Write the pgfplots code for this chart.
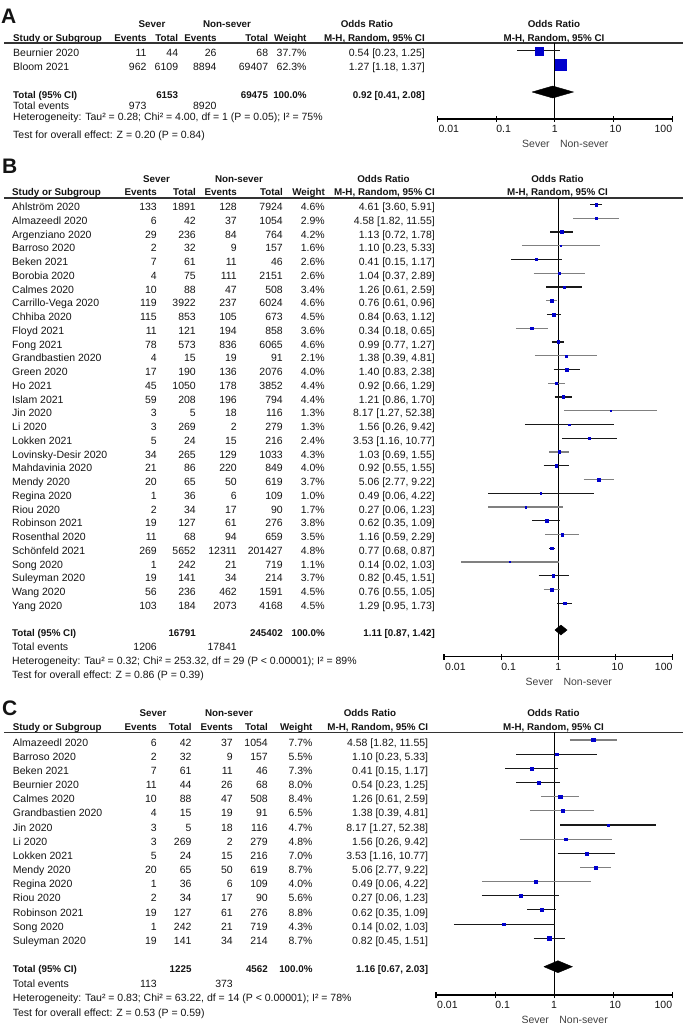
\documentclass[border=0pt]{standalone}
\usepackage{fontspec}
\setmainfont{Liberation Sans}
\usepackage{pgfplots}
\usepackage{pgfplotstable}
\pgfplotsset{compat=1.18}
\definecolor{sq}{RGB}{0,0,205}
\definecolor{txt}{RGB}{20,20,20}

% y = row position, or = odds ratio, lo/hi = 95% CI, s = half side of square, k = line shade
\pgfplotstableread{
y or lo hi s k
50.8 0.54 0.23 1.25 3.9 1
64.5 1.27 1.18 1.37 5.4 1
}\tabA

\pgfplotstableread{
y or lo hi s k
204.5 4.61 3.60 5.91 1.39 1
218.25 4.58 1.82 11.55 1.11 0
232 1.13 0.72 1.78 1.33 1
245.75 1.10 0.23 5.33 0.82 0
259.5 0.41 0.15 1.17 1.05 1
273.25 1.04 0.37 2.89 1.05 0
287 1.26 0.61 2.59 1.20 1
300.75 0.76 0.61 0.96 1.39 0
314.5 0.84 0.63 1.12 1.38 1
328.25 0.34 0.18 0.65 1.23 0
342 0.99 0.77 1.27 1.39 1
355.75 1.38 0.39 4.81 0.94 0
369.5 1.40 0.83 2.38 1.30 1
383.25 0.92 0.66 1.29 1.36 0
397 1.21 0.86 1.70 1.36 1
410.75 8.17 1.27 52.38 0.74 0
424.5 1.56 0.26 9.42 0.74 1
438.25 3.53 1.16 10.77 1.01 1
452 1.03 0.69 1.55 1.35 0
465.75 0.92 0.55 1.55 1.30 1
479.5 5.06 2.77 9.22 1.25 0
493.25 0.49 0.06 4.22 0.65 1
507 0.27 0.06 1.23 0.85 0
520.75 0.62 0.35 1.09 1.27 1
534.5 1.16 0.59 2.29 1.22 0
548.25 0.77 0.68 0.87 1.42 1
562 0.14 0.02 1.03 0.68 0
575.75 0.82 0.45 1.51 1.25 1
589.5 0.76 0.55 1.05 1.38 0
603.25 1.29 0.95 1.73 1.38 1
}\tabB

\pgfplotstableread{
y or lo hi s k
740 4.58 1.82 11.55 1.61 0
754.16 1.10 0.23 5.33 1.36 1
768.32 0.41 0.15 1.17 1.57 1
782.48 0.54 0.23 1.25 1.64 1
796.64 1.26 0.61 2.59 1.68 0
810.8 1.38 0.39 4.81 1.48 0
824.96 8.17 1.27 52.38 1.26 1
839.12 1.56 0.26 9.42 1.27 0
853.28 3.53 1.16 10.77 1.53 1
867.44 5.06 2.77 9.22 1.71 0
881.6 0.49 0.06 4.22 1.16 0
895.76 0.27 0.06 1.23 1.37 1
909.92 0.62 0.35 1.09 1.72 1
924.08 0.14 0.02 1.03 1.20 1
938.24 0.82 0.45 1.51 1.71 1
}\tabC

\pgfplotsset{
 ci1/.style={black!90, line width=1.1pt, forget plot, mark=none},
 ci0/.style={black!50, line width=1.1pt, forget plot, mark=none},
}

\newcommand\forestdata[1]{%
 \pgfplotstablegetrowsof{#1}\pgfmathtruncatemacro\NN{\pgfplotsretval-1}%
 \pgfplotsforeachungrouped \i in {0,...,\NN}{%
   \pgfplotstablegetelem{\i}{lo}\of{#1}\let\lo\pgfplotsretval
   \pgfplotstablegetelem{\i}{hi}\of{#1}\let\hi\pgfplotsretval
   \pgfplotstablegetelem{\i}{y}\of{#1}\let\yy\pgfplotsretval
   \pgfplotstablegetelem{\i}{k}\of{#1}\let\kk\pgfplotsretval
   \edef\temp{\noexpand\addplot[ci\kk] coordinates {(\lo,\yy) (\hi,\yy)};}%
   \temp
 }%
 \addplot[scatter, only marks, mark=square*, forget plot,
   scatter/use mapped color={draw=sq,fill=sq},
   visualization depends on={\thisrow{s}\as\sz},
   scatter/@pre marker code/.append style={/tikz/mark size=\sz}]
   table[x=or,y=y,meta=s]{#1};
}
\newcommand\ticklabs[1]{%
 \node[anchor=base west, yshift=-13.5pt, xshift=1pt] at (axis cs:0.01,#1) {0.01};
 \node[anchor=base west, yshift=-13.5pt] at (axis cs:0.1,#1) {0.1};
 \node[anchor=base, yshift=-13.5pt] at (axis cs:1,#1) {1};
 \node[anchor=base, yshift=-13.5pt, xshift=2pt] at (axis cs:10,#1) {10};
 \node[anchor=base east, yshift=-13.5pt] at (axis cs:100,#1) {100};
 \node[anchor=base east, yshift=-28.5pt, xshift=-5pt, text=black!75] at (axis cs:1,#1) {Sever};
 \node[anchor=base west, yshift=-28.5pt, xshift=5pt, text=black!75] at (axis cs:1,#1) {Non-sever};
}

\newcommand\setcols[7]{\def\cN{#1}\def\cE{#2}\def\cT{#3}\def\cF{#4}\def\cG{#5}\def\cW{#6}\def\cR{#7}}
\def\bl{6.1}
\def\hbl{5}
\newcommand\trow[8]{%
 \node[anchor=base west] at (\cN,#1+\bl) {#2};
 \node[anchor=base east] at (\cE,#1+\bl) {#3};
 \node[anchor=base east] at (\cT,#1+\bl) {#4};
 \node[anchor=base east] at (\cF,#1+\bl) {#5};
 \node[anchor=base east] at (\cG,#1+\bl) {#6};
 \node[anchor=base east] at (\cW,#1+\bl) {#7};
 \node[anchor=base east] at (\cR,#1+\bl) {#8};}
% #1 y row1, #2 y row2, #3 sever centre, #4 non-sever centre, #5 OR centre, #6 plot centre, #7 rule y
\newcommand\thead[7]{%
 \node[b, anchor=base] at (#3,#1+\hbl) {Sever};
 \node[b, anchor=base] at (#4,#1+\hbl) {Non-sever};
 \node[b, anchor=base] at (#5,#1+\hbl) {Odds Ratio};
 \node[b, anchor=base] at (#6,#1+\hbl) {Odds Ratio};
 \node[b, anchor=base west] at (\cN,#2+\hbl) {Study or Subgroup};
 \node[b, anchor=base east] at (\cE,#2+\hbl) {Events};
 \node[b, anchor=base east] at (\cT,#2+\hbl) {Total};
 \node[b, anchor=base east] at (\cF,#2+\hbl) {Events};
 \node[b, anchor=base east] at (\cG,#2+\hbl) {Total};
 \node[b, anchor=base east] at (\cW,#2+\hbl) {Weight};
 \node[b, anchor=base east] at (\cR,#2+\hbl) {M-H, Random, 95\% CI};
 \node[b, anchor=base] at (#6,#2+\hbl) {M-H, Random, 95\% CI};
 \draw[line width=1.3pt, black!80] (4,#7) -- (683,#7);}

\begin{document}
\fontsize{10.5}{12}\selectfont
\begin{tikzpicture}[x=1pt,y=-1pt, every node/.style={inner sep=0pt, text=txt},
  b/.style={font=\fontsize{9.8}{12}\selectfont\bfseries}]

% ---------------- Panel A ----------------
\node[anchor=base west, font=\fontsize{21}{22}\selectfont\bfseries] at (1,23) {A};
\setcols{13}{146.7}{178.3}{216.7}{268.3}{306.7}{425}
\thead{22.5}{36.8}{152}{227}{367}{554}{43}
\trow{50.8}{Beurnier 2020}{11}{44}{26}{68}{37.7\%}{0.54 [0.23, 1.25]}
\trow{64.5}{Bloom 2021}{962}{6109}{8894}{69407}{62.3\%}{1.27 [1.18, 1.37]}
\begin{scope}[every node/.append style={b}]
\trow{92}{Total (95\% CI)}{}{6153}{}{69475}{100.0\%}{0.92 [0.41, 2.08]}
\end{scope}
\trow{103.5}{Total events}{973}{}{8920}{}{}{}
\node[anchor=base west] at (\cN,114.8+\bl) {Heterogeneity: Tau² = 0.28; Chi² = 4.00, df = 1 (P = 0.05); I² = 75\%};
\node[anchor=base west] at (\cN,132.5+\bl) {Test for overall effect: Z = 0.20 (P = 0.84)};

\begin{axis}[scale only axis, anchor=south west, xmode=log, xmin=0.01, xmax=100,
   y dir=reverse, axis y line=none, axis x line*=bottom,
   axis line style={line width=1.1pt, black},
   xtick={0.01,0.1,1,10,100}, xticklabels={}, xminorticks=false,
   tick align=center, major tick length=6pt,
   every tick/.style={line width=1.1pt, black}, clip=false,
   at={(437.3pt,-119pt)}, width=235pt, height=76pt, ymin=43, ymax=119]
 \addplot[black, line width=1.1pt, mark=none, forget plot] coordinates {(1,43) (1,119)};
 \forestdata{\tabA}
 \addplot[fill=black, draw=black, mark=none, forget plot] coordinates {(0.41,92) (0.92,86) (2.08,92) (0.92,98) (0.41,92)};
 \ticklabs{119}
\end{axis}

% ---------------- Panel B ----------------
\node[anchor=base west, font=\fontsize{21}{22}\selectfont\bfseries] at (2,173.3) {B};
\setcols{12}{157}{196}{237}{283}{325}{435}
\thead{177.5}{190.2}{156.5}{239}{383.5}{557.5}{198}
\trow{204.5}{Ahlström 2020}{133}{1891}{128}{7924}{4.6\%}{4.61 [3.60, 5.91]}
\trow{218.25}{Almazeedl 2020}{6}{42}{37}{1054}{2.9\%}{4.58 [1.82, 11.55]}
\trow{232}{Argenziano 2020}{29}{236}{84}{764}{4.2\%}{1.13 [0.72, 1.78]}
\trow{245.75}{Barroso 2020}{2}{32}{9}{157}{1.6\%}{1.10 [0.23, 5.33]}
\trow{259.5}{Beken 2021}{7}{61}{11}{46}{2.6\%}{0.41 [0.15, 1.17]}
\trow{273.25}{Borobia 2020}{4}{75}{111}{2151}{2.6\%}{1.04 [0.37, 2.89]}
\trow{287}{Calmes 2020}{10}{88}{47}{508}{3.4\%}{1.26 [0.61, 2.59]}
\trow{300.75}{Carrillo-Vega 2020}{119}{3922}{237}{6024}{4.6\%}{0.76 [0.61, 0.96]}
\trow{314.5}{Chhiba 2020}{115}{853}{105}{673}{4.5\%}{0.84 [0.63, 1.12]}
\trow{328.25}{Floyd 2021}{11}{121}{194}{858}{3.6\%}{0.34 [0.18, 0.65]}
\trow{342}{Fong 2021}{78}{573}{836}{6065}{4.6\%}{0.99 [0.77, 1.27]}
\trow{355.75}{Grandbastien 2020}{4}{15}{19}{91}{2.1\%}{1.38 [0.39, 4.81]}
\trow{369.5}{Green 2020}{17}{190}{136}{2076}{4.0\%}{1.40 [0.83, 2.38]}
\trow{383.25}{Ho 2021}{45}{1050}{178}{3852}{4.4\%}{0.92 [0.66, 1.29]}
\trow{397}{Islam 2021}{59}{208}{196}{794}{4.4\%}{1.21 [0.86, 1.70]}
\trow{410.75}{Jin 2020}{3}{5}{18}{116}{1.3\%}{8.17 [1.27, 52.38]}
\trow{424.5}{Li 2020}{3}{269}{2}{279}{1.3\%}{1.56 [0.26, 9.42]}
\trow{438.25}{Lokken 2021}{5}{24}{15}{216}{2.4\%}{3.53 [1.16, 10.77]}
\trow{452}{Lovinsky-Desir 2020}{34}{265}{129}{1033}{4.3\%}{1.03 [0.69, 1.55]}
\trow{465.75}{Mahdavinia 2020}{21}{86}{220}{849}{4.0\%}{0.92 [0.55, 1.55]}
\trow{479.5}{Mendy 2020}{20}{65}{50}{619}{3.7\%}{5.06 [2.77, 9.22]}
\trow{493.25}{Regina 2020}{1}{36}{6}{109}{1.0\%}{0.49 [0.06, 4.22]}
\trow{507}{Riou 2020}{2}{34}{17}{90}{1.7\%}{0.27 [0.06, 1.23]}
\trow{520.75}{Robinson 2021}{19}{127}{61}{276}{3.8\%}{0.62 [0.35, 1.09]}
\trow{534.5}{Rosenthal 2020}{11}{68}{94}{659}{3.5\%}{1.16 [0.59, 2.29]}
\trow{548.25}{Schönfeld 2021}{269}{5652}{12311}{201427}{4.8\%}{0.77 [0.68, 0.87]}
\trow{562}{Song 2020}{1}{242}{21}{719}{1.1\%}{0.14 [0.02, 1.03]}
\trow{575.75}{Suleyman 2020}{19}{141}{34}{214}{3.7\%}{0.82 [0.45, 1.51]}
\trow{589.5}{Wang 2020}{56}{236}{462}{1591}{4.5\%}{0.76 [0.55, 1.05]}
\trow{603.25}{Yang 2020}{103}{184}{2073}{4168}{4.5\%}{1.29 [0.95, 1.73]}
\begin{scope}[every node/.append style={b}]
\trow{630}{Total (95\% CI)}{}{16791}{}{245402}{100.0\%}{1.11 [0.87, 1.42]}
\end{scope}
\trow{644.2}{Total events}{1206}{}{17841}{}{}{}
\node[anchor=base west] at (\cN,658.5+\bl) {Heterogeneity: Tau² = 0.32; Chi² = 253.32, df = 29 (P < 0.00001); I² = 89\%};
\node[anchor=base west] at (\cN,672.5+\bl) {Test for overall effect: Z = 0.86 (P = 0.39)};

\begin{axis}[scale only axis, anchor=south west, xmode=log, xmin=0.01, xmax=100,
   y dir=reverse, axis y line=none, axis x line*=bottom,
   axis line style={line width=1.1pt, black},
   xtick={0.01,0.1,1,10,100}, xticklabels={}, xminorticks=false,
   tick align=center, major tick length=6pt,
   every tick/.style={line width=1.1pt, black}, clip=false,
   at={(444pt,-656.7pt)}, width=228.7pt, height=458.7pt, ymin=198, ymax=656.7]
 \addplot[black, line width=1.1pt, mark=none, forget plot] coordinates {(1,198) (1,656.7)};
 \forestdata{\tabB}
 \addplot[fill=black, draw=black, mark=none, forget plot] coordinates {(0.87,630) (1.11,625) (1.42,630) (1.11,635) (0.87,630)};
 \ticklabs{656.7}
\end{axis}

% ---------------- Panel C ----------------
\node[anchor=base west, font=\fontsize{21}{22}\selectfont\bfseries] at (2,715) {C};
\setcols{12.7}{157}{191.7}{233}{268}{312.7}{428.3}
\thead{711.5}{725.2}{153}{229}{370}{553.5}{732.3}
\trow{740}{Almazeedl 2020}{6}{42}{37}{1054}{7.7\%}{4.58 [1.82, 11.55]}
\trow{754.16}{Barroso 2020}{2}{32}{9}{157}{5.5\%}{1.10 [0.23, 5.33]}
\trow{768.32}{Beken 2021}{7}{61}{11}{46}{7.3\%}{0.41 [0.15, 1.17]}
\trow{782.48}{Beurnier 2020}{11}{44}{26}{68}{8.0\%}{0.54 [0.23, 1.25]}
\trow{796.64}{Calmes 2020}{10}{88}{47}{508}{8.4\%}{1.26 [0.61, 2.59]}
\trow{810.8}{Grandbastien 2020}{4}{15}{19}{91}{6.5\%}{1.38 [0.39, 4.81]}
\trow{824.96}{Jin 2020}{3}{5}{18}{116}{4.7\%}{8.17 [1.27, 52.38]}
\trow{839.12}{Li 2020}{3}{269}{2}{279}{4.8\%}{1.56 [0.26, 9.42]}
\trow{853.28}{Lokken 2021}{5}{24}{15}{216}{7.0\%}{3.53 [1.16, 10.77]}
\trow{867.44}{Mendy 2020}{20}{65}{50}{619}{8.7\%}{5.06 [2.77, 9.22]}
\trow{881.6}{Regina 2020}{1}{36}{6}{109}{4.0\%}{0.49 [0.06, 4.22]}
\trow{895.76}{Riou 2020}{2}{34}{17}{90}{5.6\%}{0.27 [0.06, 1.23]}
\trow{909.92}{Robinson 2021}{19}{127}{61}{276}{8.8\%}{0.62 [0.35, 1.09]}
\trow{924.08}{Song 2020}{1}{242}{21}{719}{4.3\%}{0.14 [0.02, 1.03]}
\trow{938.24}{Suleyman 2020}{19}{141}{34}{214}{8.7\%}{0.82 [0.45, 1.51]}
\begin{scope}[every node/.append style={b}]
\trow{966.7}{Total (95\% CI)}{}{1225}{}{4562}{100.0\%}{1.16 [0.67, 2.03]}
\end{scope}
\trow{981.4}{Total events}{113}{}{373}{}{}{}
\node[anchor=base west] at (\cN,995.7+\bl) {Heterogeneity: Tau² = 0.83; Chi² = 63.22, df = 14 (P < 0.00001); I² = 78\%};
\node[anchor=base west] at (\cN,1010.1+\bl) {Test for overall effect: Z = 0.53 (P = 0.59)};

\begin{axis}[scale only axis, anchor=south west, xmode=log, xmin=0.01, xmax=100,
   y dir=reverse, axis y line=none, axis x line*=bottom,
   axis line style={line width=1.1pt, black},
   xtick={0.01,0.1,1,10,100}, xticklabels={}, xminorticks=false,
   tick align=center, major tick length=6pt,
   every tick/.style={line width=1.1pt, black}, clip=false,
   at={(436pt,-995pt)}, width=236.3pt, height=262.7pt, ymin=732.3, ymax=995]
 \addplot[black, line width=1.1pt, mark=none, forget plot] coordinates {(1,732.3) (1,995)};
 \forestdata{\tabC}
 \addplot[fill=black, draw=black, mark=none, forget plot] coordinates {(0.67,966.7) (1.16,960.7) (2.03,966.7) (1.16,972.7) (0.67,966.7)};
 \ticklabs{995}
\end{axis}

\pgfresetboundingbox
\path[use as bounding box] (0,0) rectangle (685,1026);
\end{tikzpicture}
\end{document}
